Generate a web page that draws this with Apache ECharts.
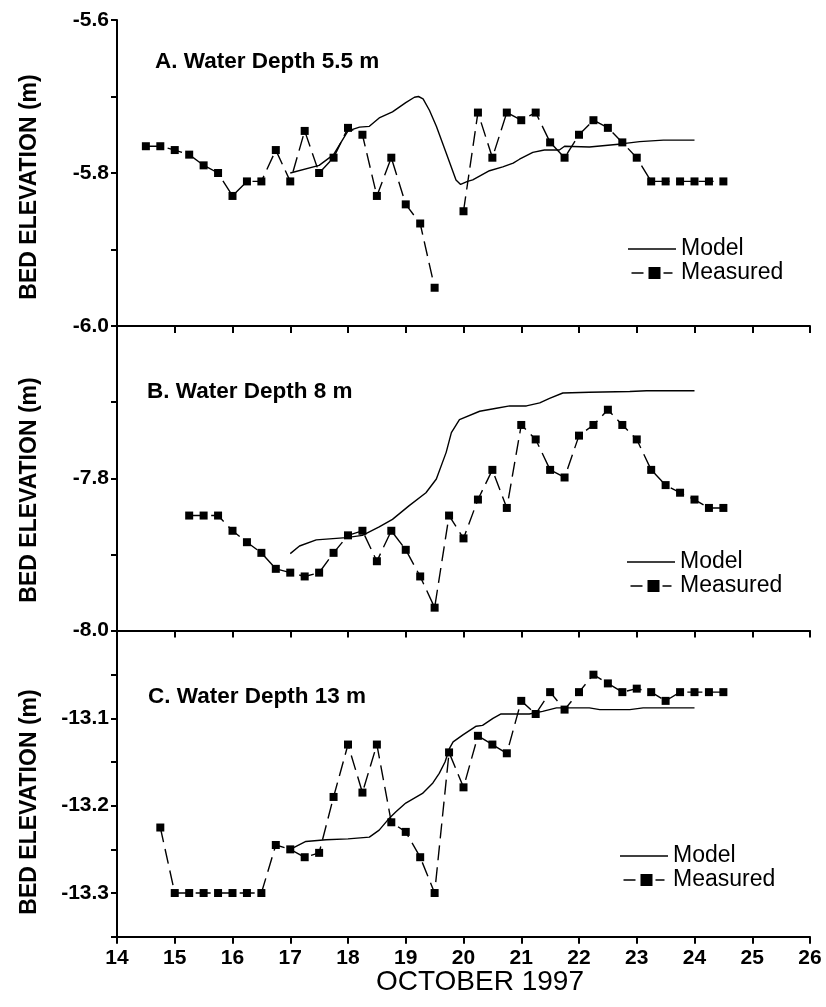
<!DOCTYPE html>
<html>
<head>
<meta charset="utf-8">
<script src="https://cdn.jsdelivr.net/npm/echarts@6/dist/echarts.min.js"></script>
<style>
html,body{margin:0;padding:0;background:#fff;}
#chart{width:826px;height:1007px;}
</style>
</head>
<body>
<div id="chart"></div>
<script>
// ---------------- DATA ----------------
const xTickLabels = ['14','15','16','17','18','19','20','21','22','23','24','25','26'];
const yLabelsA = ['-5.6','-5.8','-6.0'];
const yLabelsB = ['-7.8','-8.0'];
const yLabelsC = ['-13.1','-13.2','-13.3'];

const panelTitles = ['A. Water Depth 5.5 m','B. Water Depth 8 m','C. Water Depth 13 m'];
const yTitle = 'BED ELEVATION (m)';
const xTitle = 'OCTOBER 1997';
const seriesNames = ['Model','Measured'];

// Panel A - measured
const measDaysA = [14.5,14.75,15,15.25,15.5,15.75,16,16.25,16.5,16.75,17,17.25,17.5,17.75,18,18.25,18.5,18.75,19,19.25,19.5,19.75,20,20.25,20.5,20.75,21,21.25,21.5,21.75,22,22.25,22.5,22.75,23,23.25,23.5,23.75,24,24.25,24.5];
const measValsA = [-5.765,-5.765,-5.770,-5.776,-5.790,-5.800,-5.830,-5.811,-5.811,-5.770,-5.811,-5.745,-5.800,-5.780,-5.741,-5.750,-5.830,-5.780,-5.841,-5.866,-5.950,null,-5.850,-5.721,-5.780,-5.721,-5.731,-5.721,-5.760,-5.780,-5.750,-5.731,-5.741,-5.760,-5.780,-5.811,-5.811,-5.811,-5.811,-5.811,-5.811];
// Panel A - model
const modelDaysA = [17.0,17.5,17.75,18.0,18.2,18.37,18.54,18.77,19.0,19.15,19.22,19.3,19.41,19.53,19.7,19.87,19.95,20.07,20.16,20.45,20.68,20.86,20.97,21.2,21.4,21.66,21.75,22.18,22.73,23.05,23.46,24.0];
const modelValsA = [-5.800,-5.790,-5.776,-5.745,-5.740,-5.739,-5.728,-5.720,-5.708,-5.701,-5.700,-5.703,-5.718,-5.739,-5.774,-5.809,-5.815,-5.811,-5.809,-5.797,-5.792,-5.787,-5.782,-5.773,-5.770,-5.770,-5.765,-5.766,-5.762,-5.759,-5.757,-5.757];

// Panel B - measured
const measDaysB = [15.25,15.5,15.75,16,16.25,16.5,16.75,17,17.25,17.5,17.75,18,18.25,18.5,18.75,19,19.25,19.5,19.75,20,20.25,20.5,20.75,21,21.25,21.5,21.75,22,22.25,22.5,22.75,23,23.25,23.5,23.75,24,24.25,24.5];
const measValsB = [-7.849,-7.849,-7.849,-7.869,-7.884,-7.898,-7.919,-7.924,-7.929,-7.924,-7.898,-7.875,-7.869,-7.909,-7.869,-7.894,-7.929,-7.970,-7.849,-7.879,-7.828,-7.789,-7.839,-7.730,-7.749,-7.789,-7.799,-7.744,-7.730,-7.710,-7.730,-7.749,-7.789,-7.809,-7.819,-7.828,-7.839,-7.839];
// Panel B - model
const modelDaysB = [17.0,17.16,17.45,17.97,18.25,18.54,18.77,19.06,19.35,19.53,19.7,19.79,19.93,20.28,20.57,20.8,21.09,21.32,21.49,21.72,22.18,22.88,23.17,24.0];
const modelValsB = [-7.899,-7.889,-7.881,-7.878,-7.875,-7.864,-7.854,-7.836,-7.819,-7.801,-7.766,-7.740,-7.723,-7.712,-7.708,-7.705,-7.705,-7.701,-7.695,-7.688,-7.687,-7.686,-7.685,-7.685];

// Panel C - measured
const measDaysC = [14.75,15,15.25,15.5,15.75,16,16.25,16.5,16.75,17,17.25,17.5,17.75,18,18.25,18.5,18.75,19,19.25,19.5,19.75,20,20.25,20.5,20.75,21,21.25,21.5,21.75,22,22.25,22.5,22.75,23,23.25,23.5,23.75,24,24.25,24.5];
const measValsC = [-13.225,-13.300,-13.300,-13.300,-13.300,-13.300,-13.300,-13.300,-13.245,-13.250,-13.259,-13.254,-13.190,-13.130,-13.185,-13.130,-13.219,-13.230,-13.259,-13.300,-13.139,-13.179,-13.120,-13.130,-13.140,-13.080,-13.095,-13.070,-13.090,-13.070,-13.050,-13.060,-13.070,-13.066,-13.070,-13.080,-13.070,-13.070,-13.070,-13.070];
// Panel C - model
const modelDaysC = [17.0,17.27,17.62,18.0,18.37,18.54,18.72,18.83,19.0,19.29,19.47,19.58,19.68,19.76,19.82,19.99,20.22,20.33,20.51,20.65,21.14,21.37,21.61,22.18,22.36,22.88,23.11,24.0];
const modelValsC = [-13.250,-13.241,-13.239,-13.238,-13.236,-13.228,-13.214,-13.207,-13.197,-13.186,-13.174,-13.163,-13.150,-13.134,-13.127,-13.119,-13.109,-13.108,-13.100,-13.095,-13.095,-13.092,-13.088,-13.088,-13.090,-13.090,-13.088,-13.088];

// ---------------- CHART ----------------
const FONT = "'Liberation Sans', Arial, Helvetica, sans-serif";
const zip = (xs, ys) => xs.map((x, i) => [x, ys[i]]);

const grids = [
  {left: 117, width: 693, top: 20, height: 306},
  {left: 117, width: 693, top: 326, height: 304.5},
  {left: 117, width: 693, top: 631, height: 305.7}
];
const yRanges = [
  {min: -6.0, max: -5.6, interval: 0.1, labels: yLabelsA},
  {min: -8.0, max: -7.6, interval: 0.1, labels: yLabelsB},
  {min: -13.35, max: -13.0, interval: 0.05, labels: yLabelsC}
];

function yFormatter(labels) {
  return function (v) {
    if (Math.abs(v * 10 - Math.round(v * 10)) > 1e-6) return '';
    const s1 = (Math.round(v * 10) / 10).toFixed(1);
    return labels.indexOf(s1) >= 0 ? s1 : '';
  };
}

const axisLineStyle = {color: '#000', width: 2};

const xAxes = grids.map((g, i) => ({
  type: 'value', gridIndex: i, min: 14, max: 26, interval: 1,
  axisLine: {show: true, onZero: false, lineStyle: axisLineStyle},
  axisTick: {show: true, length: 7, lineStyle: {color: '#000', width: 2}},
  axisLabel: {
    show: i === 2, margin: 11, color: '#000', fontSize: 21, fontWeight: 'bold', fontFamily: FONT,
    formatter: (v) => xTickLabels[Math.round(v) - 14] || ''
  },
  splitLine: {show: false}
}));

const yAxes = yRanges.map((r, i) => ({
  type: 'value', gridIndex: i, min: r.min, max: r.max, interval: r.interval,
  axisLine: {show: true, onZero: false, lineStyle: axisLineStyle},
  axisTick: {show: true, length: 6, lineStyle: {color: '#000', width: 2}},
  axisLabel: {
    show: true, margin: 8, color: '#000', fontSize: 21, fontWeight: 'bold', fontFamily: FONT,
    formatter: yFormatter(r.labels), showMinLabel: true, showMaxLabel: true
  },
  splitLine: {show: false}
}));

const measured = [zip(measDaysA, measValsA), zip(measDaysB, measValsB), zip(measDaysC, measValsC)];
const model = [zip(modelDaysA, modelValsA), zip(modelDaysB, modelValsB), zip(modelDaysC, modelValsC)];

const series = [];
for (let i = 0; i < 3; i++) {
  series.push({
    name: seriesNames[1], type: 'line', xAxisIndex: i, yAxisIndex: i,
    data: measured[i], connectNulls: false,
    symbol: 'rect', symbolSize: 8, showSymbol: true,
    itemStyle: {color: '#000'},
    lineStyle: {color: '#000', width: 1.4, type: [15, 7]},
    emphasis: {disabled: true}, z: 3
  });
  series.push({
    name: seriesNames[0], type: 'line', xAxisIndex: i, yAxisIndex: i,
    data: model[i], symbol: 'none', showSymbol: false,
    itemStyle: {color: '#000'},
    lineStyle: {color: '#000', width: 1.4},
    emphasis: {disabled: true}, z: 2
  });
}

const modelIcon = 'path://M0,0H48V1.4H0Z';
const measuredIcon = 'path://M0,5.3H12V6.7H0Z M17,0H29V12H17Z M32,5.3H41V6.7H32Z';

const legendPos = [
  {left: 628, top: 237},
  {left: 627, top: 550},
  {left: 620, top: 844}
];
const legends = legendPos.map(p => ({
  data: [{name: seriesNames[0], icon: modelIcon}, {name: seriesNames[1], icon: measuredIcon}],
  orient: 'vertical', left: p.left, top: p.top,
  itemWidth: 48, itemHeight: 12, itemGap: 0, padding: 0, selectedMode: false,
  textStyle: {fontSize: 23, fontFamily: FONT, color: '#000', lineHeight: 24}
}));

const titlePos = [
  {x: 155, y: 62},
  {x: 147, y: 392},
  {x: 148, y: 697}
];
const yTitleY = [187, 490, 802];

const graphics = [];
titlePos.forEach((p, i) => {
  graphics.push({
    type: 'text', x: p.x, y: p.y, silent: true,
    style: {text: panelTitles[i], fill: '#000', font: "bold 22.5px 'Liberation Sans', Arial, sans-serif", align: 'left', verticalAlign: 'middle'}
  });
});
yTitleY.forEach(y => {
  graphics.push({
    type: 'text', x: 30, y: y, rotation: Math.PI / 2, silent: true,
    style: {text: yTitle, fill: '#000', font: "bold 23px 'Liberation Sans', Arial, sans-serif", align: 'center', verticalAlign: 'middle'}
  });
});
graphics.push({
  type: 'text', x: 480, y: 982, silent: true,
  style: {text: xTitle, fill: '#000', font: "28px 'Liberation Sans', Arial, sans-serif", align: 'center', verticalAlign: 'middle'}
});

const chart = echarts.init(document.getElementById('chart'), null, {renderer: 'canvas'});
chart.setOption({
  animation: false,
  backgroundColor: '#fff',
  grid: grids,
  xAxis: xAxes,
  yAxis: yAxes,
  legend: legends,
  series: series,
  graphic: graphics
});
</script>
</body>
</html>
